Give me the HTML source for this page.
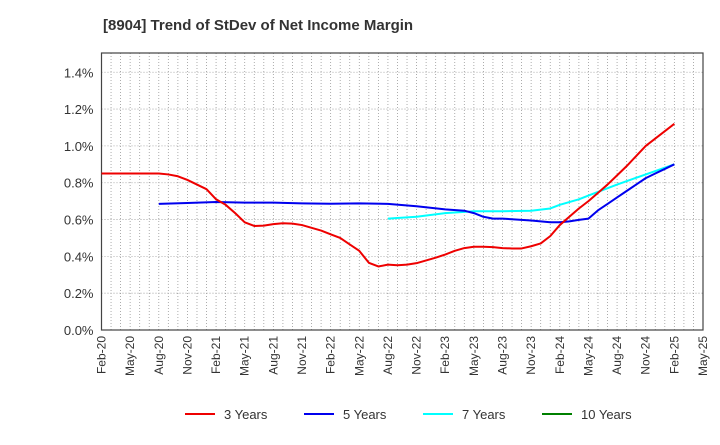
<!DOCTYPE html>
<html><head><meta charset="utf-8"><style>
body{margin:0;background:#fff;font-family:"Liberation Sans",sans-serif}
</style></head><body>
<svg id="chart" width="720" height="440" xmlns="http://www.w3.org/2000/svg" font-family="Liberation Sans, sans-serif">
<text x="103" y="30" font-size="15" font-weight="bold" fill="#333">[8904]  Trend of StDev of Net Income Margin</text>
<g id="grid"></g><g id="axes"></g><g id="series"></g><g id="legend"></g>
</svg>
<script>
const xLabels=["Feb-20","May-20","Aug-20","Nov-20","Feb-21","May-21","Aug-21","Nov-21","Feb-22","May-22","Aug-22","Nov-22","Feb-23","May-23","Aug-23","Nov-23","Feb-24","May-24","Aug-24","Nov-24","Feb-25","May-25"];
const yTicks=[0,0.2,0.4,0.6,0.8,1.0,1.2,1.4];
const red3Idx=[0,3,6,7,8,9,10,11,12,13,14,15,16,17,18,19,20,21,22,23,24,25,26,27,28,29,30,31,32,33,34,35,36,37,38,39,40,41,42,43,44,45,46,47,48,49,50,51,52,53,54,55,56,57,58,59,60];
const red3Val=[0.85,0.85,0.85,0.845,0.835,0.815,0.79,0.765,0.71,0.68,0.635,0.585,0.565,0.567,0.575,0.58,0.578,0.57,0.555,0.54,0.52,0.5,0.465,0.43,0.365,0.345,0.355,0.352,0.355,0.363,0.378,0.393,0.41,0.43,0.445,0.452,0.452,0.45,0.445,0.443,0.443,0.455,0.47,0.51,0.57,0.615,0.66,0.70,0.745,0.79,0.84,0.89,0.945,1.0,1.04,1.08,1.12];
const blue5Idx=[6,9,12,15,18,21,24,27,30,33,36,38,39,40,41,42,45,47,48,49,50,51,52,53,54,55,56,57,58,59,60];
const blue5Val=[0.685,0.69,0.695,0.692,0.692,0.688,0.686,0.688,0.685,0.672,0.655,0.648,0.635,0.615,0.605,0.605,0.595,0.585,0.585,0.59,0.598,0.605,0.65,0.685,0.72,0.755,0.79,0.825,0.85,0.875,0.9];
const cyan7Idx=[30,33,36,39,42,45,47,48,50,51,54,57,60];
const cyan7Val=[0.605,0.615,0.635,0.645,0.645,0.648,0.66,0.68,0.71,0.73,0.79,0.845,0.9];
const L=101.5,R=703,T=53,B=330,NM=63;
const xs=m=>L+(R-L)*m/NM, ys=v=>B-184.1*v;
const NS="http://www.w3.org/2000/svg";
function mk(p,t,a){const e=document.createElementNS(NS,t);for(const k in a)e.setAttribute(k,a[k]);p.appendChild(e);return e;}
const grid=document.getElementById('grid'),axes=document.getElementById('axes'),ser=document.getElementById('series'),leg=document.getElementById('legend');
for(let m=1;m<NM;m++){const l=mk(grid,'line',{x1:xs(m),x2:xs(m),y1:T,y2:B,stroke:'#999','stroke-width':0.8,'stroke-dasharray':'1,2'});

}
yTicks.forEach(v=>{if(v>0){const l=mk(grid,'line',{x1:L,x2:R,y1:ys(v),y2:ys(v),stroke:'#999','stroke-width':0.8,'stroke-dasharray':'1,2'});

}
const t=mk(axes,'text',{x:L-8,y:ys(v)+5,'text-anchor':'end','font-size':13,fill:'#333'});t.textContent=v.toFixed(1)+'%';

});
xLabels.forEach((s,i)=>{const x=xs(i*3);const t=mk(axes,'text',{transform:`translate(${x+4},${B+6}) rotate(-90)`,'text-anchor':'end','font-size':12,fill:'#333'});t.textContent=s;

});
const fr=mk(axes,'rect',{x:L,y:T,width:R-L,height:B-T,fill:'none',stroke:'#444','stroke-width':1.2});


function line(idx,val,c,name){const p=mk(ser,'polyline',{points:idx.map((m,i)=>xs(m)+','+ys(val[i])).join(' '),fill:'none',stroke:c,'stroke-width':2,'stroke-linejoin':'round'});

}
line(cyan7Idx,cyan7Val,'#00ffff','line-7-years');
line(blue5Idx,blue5Val,'#0000ee','line-5-years');
line(red3Idx,red3Val,'#ee0000','line-3-years');
[["3 Years","#ee0000",185],["5 Years","#0000ee",304],["7 Years","#00ffff",423],["10 Years","#008000",542]].forEach(([s,c,x])=>{
const g=mk(leg,'g',{});


mk(g,'line',{x1:x,x2:x+30,y1:414,y2:414,stroke:c,'stroke-width':2});
const t=mk(g,'text',{x:x+39,y:419,'font-size':13,fill:'#333'});t.textContent=s;});
</script>
</body></html>
